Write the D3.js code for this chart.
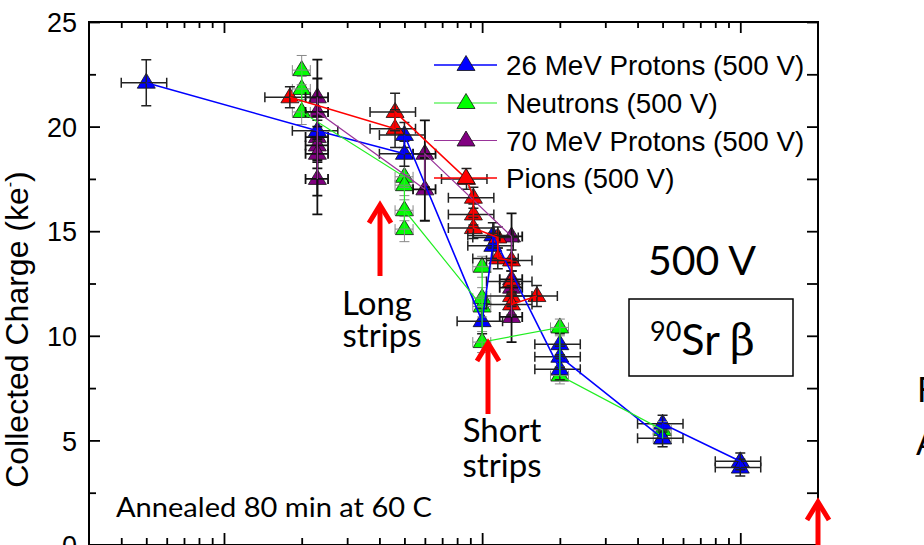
<!DOCTYPE html>
<html>
<head>
<meta charset="utf-8">
<script src="https://cdn.jsdelivr.net/npm/d3@7.9.0/dist/d3.min.js"></script>
<style>
  html, body { margin: 0; padding: 0; background: #fff; overflow: hidden; }
  svg { display: block; }
  .axis text { font-family: "Liberation Sans", Arial, sans-serif; font-size: 27px; fill: #000; }
  .axis line { stroke: #000; stroke-width: 1.8; }
  .axis path { display: none; }
  .note { font-family: Lato, "Open Sans", sans-serif; fill: #000; }
</style>
</head>
<body>
<svg id="chart" width="924" height="545"></svg>
<script>
// ---- data (fluence in n_eq/cm^2, charge in ke-) ----
const p26Fluence = [5e13, 2.3e14, 5e14, 5e14, 1e15, 1.1e15, 1.1e15, 2e15, 2e15, 2e15, 5e15, 5e15, 1e16, 1e16];
const p26Charge  = [22.1, 19.8, 18.7, 19.6, 10.7, 14.3, 14.8, 8.4, 9.6, 9.0, 5.1, 5.8, 4.0, 3.7];
const p26Err     = [1.1, 0.5, 0.6, 0.6, 0.6, 0.6, 0.6, 0.5, 0.5, 0.5, 0.4, 0.4, 0.4, 0.4];

const neutronFluence = [2e14, 2e14, 2e14, 5e14, 5e14, 5e14, 5e14, 1e15, 1e15, 1e15, 1e15, 2e15, 2e15, 5e15, 5e15];
const neutronCharge  = [22.7, 21.8, 20.7, 17.6, 17.2, 15.1, 16.0, 11.4, 13.3, 11.8, 9.7, 10.4, 8.1, 5.5, 5.1];
const neutronErr     = [0.7, 0.6, 0.6, 0.5, 0.5, 0.6, 0.5, 0.5, 0.5, 0.5, 0.5, 0.4, 0.4, 0.4, 0.4];

const p70Fluence = [2.3e14, 2.3e14, 2.3e14, 2.3e14, 2.3e14, 2.3e14, 6e14, 6e14, 1.3e15, 1.3e15, 1.3e15, 1.3e15];
const p70Charge  = [21.4, 19.5, 19.1, 18.7, 17.5, 20.7, 17.0, 18.7, 14.75, 12.7, 12.3, 10.9];
const p70Err     = [0.9, 3.7, 0.7, 0.7, 0.8, 0.7, 1.5, 1.6, 1.1, 0.8, 0.8, 1.2];

const pionFluence = [1.8e14, 4.6e14, 4.6e14, 8.7e14, 9.25e14, 9.25e14, 9.25e14, 1.15e15, 1.15e15, 1.3e15, 1.3e15, 1.3e15, 1.3e15, 1.63e15];
const pionCharge  = [21.4, 19.9, 20.7, 17.5, 16.6, 15.8, 15.15, 14.7, 13.7, 13.6, 12.6, 11.9, 11.5, 11.9];
const pionErr     = [0.5, 0.9, 0.9, 0.5, 0.5, 0.5, 0.5, 0.5, 0.5, 0.5, 0.5, 0.5, 0.5, 0.5];

const seriesNames = ['26 MeV Protons (500 V)', 'Neutrons (500 V)', '70 MeV Protons (500 V)', 'Pions (500 V)'];

const yTicks = [0, 5, 10, 15, 20, 25];
const yMinorTicks = [2.5, 7.5, 12.5, 17.5, 22.5];
const xTicks = [1e14, 1e15, 1e16];
const xMinorTicks = [4e13, 5e13, 6e13, 7e13, 8e13, 9e13,
  2e14, 3e14, 4e14, 5e14, 6e14, 7e14, 8e14, 9e14,
  2e15, 3e15, 4e15, 5e15, 6e15, 7e15, 8e15, 9e15];

const series = [
  { name: seriesNames[0], fill: '#0000ff', line: '#0000ff', lw: 1.6, err: '#222', ew: 1.5, xf: 0.2, f: p26Fluence, c: p26Charge, e: p26Err },
  { name: seriesNames[1], fill: '#00ff00', line: '#22ee22', lw: 1.2, err: '#888', ew: 1.0, xf: 0.08, f: neutronFluence, c: neutronCharge, e: neutronErr },
  { name: seriesNames[2], fill: '#800080', line: '#993399', lw: 1.2, err: '#111', ew: 1.8, xf: 0.1, f: p70Fluence, c: p70Charge, e: p70Err },
  { name: seriesNames[3], fill: '#ff0000', line: '#ff0000', lw: 1.6, err: '#222', ew: 1.5, xf: 0.2, f: pionFluence, c: pionCharge, e: pionErr },
];

const svg = d3.select('#chart');
const x = d3.scaleLog().domain([3e13, 2e16]).range([89, 818]);
const y = d3.scaleLinear().domain([0, 25]).range([545, 22]);
const [x0, x1] = x.range();
const [y0, y1] = y.range();

// axes, ticks point inward on all four sides
const axes = svg.append('g');
axes.append('g').attr('class', 'axis').attr('transform', `translate(${x0},0)`)
  .call(d3.axisLeft(y).tickValues(yTicks).tickSize(-11).tickPadding(12));
axes.append('g').attr('class', 'axis').attr('transform', `translate(${x0},0)`)
  .call(d3.axisLeft(y).tickValues(yMinorTicks).tickSize(-7).tickFormat(''));
axes.append('g').attr('class', 'axis').attr('transform', `translate(${x1},0)`)
  .call(d3.axisRight(y).tickValues(yTicks.concat(yMinorTicks)).tickSize(-11).tickFormat(''));
axes.append('g').attr('class', 'axis').attr('transform', `translate(0,${y1})`)
  .call(d3.axisTop(x).tickValues(xTicks).tickSize(-11).tickFormat(''));
axes.append('g').attr('class', 'axis').attr('transform', `translate(0,${y1})`)
  .call(d3.axisTop(x).tickValues(xMinorTicks).tickSize(-6).tickFormat(''));
axes.append('g').attr('class', 'axis').attr('transform', `translate(0,${y0})`)
  .call(d3.axisBottom(x).tickValues(xTicks).tickSize(-12).tickFormat(''));
axes.append('g').attr('class', 'axis').attr('transform', `translate(0,${y0})`)
  .call(d3.axisBottom(x).tickValues(xMinorTicks).tickSize(-7).tickFormat(''));
axes.selectAll('.tick text').attr('dy', '0.36em');

// frame
svg.append('rect')
  .attr('x', x0).attr('y', y1).attr('width', x1 - x0).attr('height', y0 - y1)
  .attr('fill', 'none').attr('stroke', '#000').attr('stroke-width', 2);

// y title
svg.append('text')
  .attr('transform', `translate(28,${(y0 + y1) / 2 + 46}) rotate(-90)`)
  .attr('text-anchor', 'middle')
  .style('font-family', '"Liberation Sans", Arial, sans-serif')
  .style('font-size', '32px')
  .text('Collected Charge (ke')
  .call(t => t.append('tspan').attr('dy', -13).style('font-size', '16px').text('-'))
  .call(t => t.append('tspan').attr('dy', 13).text(')'));

const tri = 'M0,-9.5L9,5.5L-9,5.5Z';
const pts = s => s.f.map((f, i) => ({ f, c: s.c[i], e: s.e[i] }));

// markers (drawn green, purple, blue, red as in the original stacking)
const markOrder = [1, 2, 0, 3];
const marks = svg.append('g');
markOrder.forEach(k => {
  const s = series[k];
  marks.append('g').selectAll('path').data(pts(s)).join('path')
    .attr('d', tri)
    .attr('transform', d => `translate(${x(d.f)},${y(d.c)})`)
    .attr('fill', s.fill).attr('stroke', '#111').attr('stroke-width', 0.8);
});

// error bars
const errs = svg.append('g');
markOrder.forEach(k => {
  const s = series[k];
  const g = errs.append('g').attr('stroke', s.err).attr('stroke-width', s.ew).attr('fill', 'none');
  g.selectAll('path').data(pts(s)).join('path')
    .attr('d', d => {
      const cx = x(d.f), cy = y(d.c);
      const top = y(d.c + d.e), bot = y(d.c - d.e);
      const l = x(d.f * (1 - s.xf)), r = x(d.f * (1 + s.xf));
      return `M${cx},${top}V${bot}M${cx - 5},${top}H${cx + 5}M${cx - 5},${bot}H${cx + 5}` +
        `M${l},${cy}H${r}M${l},${cy - 5}V${cy + 5}M${r},${cy - 5}V${cy + 5}`;
    });
});

// connecting lines
const line = d3.line().x(d => x(d.f)).y(d => y(d.c));
series.forEach(s => {
  svg.append('path').datum(pts(s))
    .attr('d', line).attr('fill', 'none')
    .attr('stroke', s.line).attr('stroke-width', s.lw);
});

// legend
const legendY = [65, 103, 140.5, 178];
const legend = svg.append('g');
series.forEach((s, i) => {
  const g = legend.append('g').attr('transform', `translate(0,${legendY[i]})`);
  g.append('line').attr('x1', 434).attr('x2', 497).attr('stroke', s.line).attr('stroke-width', s.lw);
  g.append('path').attr('d', tri).attr('transform', 'translate(466,0)')
    .attr('fill', s.fill).attr('stroke', '#111').attr('stroke-width', 0.8);
  g.append('text').attr('x', 506).attr('y', 10)
    .style('font-family', '"Liberation Sans", Arial, sans-serif').style('font-size', '27.8px')
    .text(s.name);
});

// annotations
const red = '#ff0000';
function arrow(cx, tip, tail) {
  svg.append('path').attr('d', `M${cx},${tail}V${tip + 3}`)
    .attr('stroke', red).attr('stroke-width', 5).attr('fill', 'none');
  svg.append('path').attr('d', `M${cx - 11},${tip + 19}L${cx},${tip + 1}L${cx + 11},${tip + 19}`)
    .attr('stroke', red).attr('stroke-width', 5).attr('fill', 'none');
}
arrow(380, 204, 276);
arrow(488, 342, 414);
arrow(818, 501, 560);

const note = (tx, ty, str, size, anchor) => svg.append('text').attr('class', 'note')
  .attr('x', tx).attr('y', ty).attr('text-anchor', anchor || 'start')
  .style('font-size', size + 'px').text(str);

note(377, 315, 'Long', 33, 'middle');
note(382, 347, 'strips', 33, 'middle');
note(502, 442, 'Short', 33, 'middle');
note(502, 477, 'strips', 33, 'middle');
note(702, 275, '500 V', 41, 'middle');
note(116, 517, 'Annealed 80 min at 60 C', 26).attr('textLength', 316).attr('lengthAdjust', 'spacingAndGlyphs');

svg.append('rect').attr('x', 629).attr('y', 299).attr('width', 164).attr('height', 77)
  .attr('fill', 'none').attr('stroke', '#000').attr('stroke-width', 1.5);
const sr = svg.append('text').attr('class', 'note').attr('x', 650).attr('y', 355).style('font-size', '43px');
sr.append('tspan').attr('dy', -14).style('font-size', '27px').text('90');
sr.append('tspan').attr('dy', 14).text('Sr ');
sr.append('tspan').style('font-family', '"DejaVu Serif", "Liberation Serif", serif').text('β');

note(917, 402, 'F', 34);
note(916, 455, 'A', 34);
</script>
</body>
</html>
